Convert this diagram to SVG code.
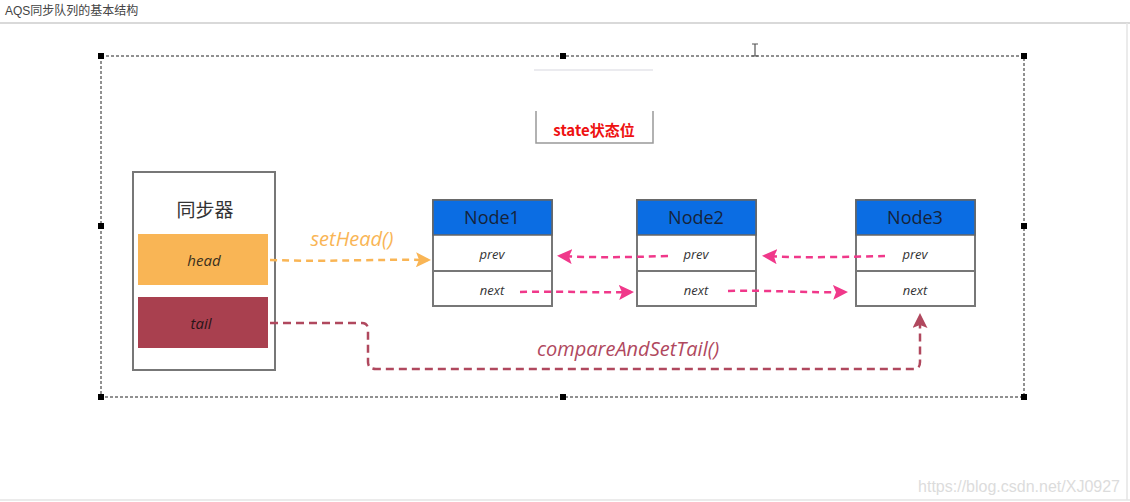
<svg xmlns="http://www.w3.org/2000/svg" width="1130" height="502" viewBox="0 0 1130 502">
<style>
.frame{fill:#fff;stroke:#777;stroke-width:2}
.hdr{fill:#0b6de3;stroke:#666;stroke-width:1.5}
.hand{font-family:"Open Sans","Liberation Sans",sans-serif}
.it{font-style:italic}
.nodeT{font-size:18px;fill:#16233a;text-anchor:middle}
.field{font-size:13px;fill:#333;text-anchor:middle;font-style:italic}
.pink{fill:none;stroke:#f0388a;stroke-width:2.5;stroke-dasharray:7 5}
.handle{fill:#000}
</style>
<defs>
<marker id="mPink" viewBox="0 0 10 10" refX="8" refY="5" markerWidth="6" markerHeight="6" orient="auto"><path d="M0,0 L10,5 L0,10 L2,5 z" fill="#f0388a"/></marker>
<marker id="mOrange" viewBox="0 0 10 10" refX="8" refY="5" markerWidth="6" markerHeight="6" orient="auto"><path d="M0,0 L10,5 L0,10 L2,5 z" fill="#f9b555"/></marker>
<marker id="mRed" viewBox="0 0 10 10" refX="8" refY="5" markerWidth="6" markerHeight="6" orient="auto"><path d="M0,0 L10,5 L0,10 L2,5 z" fill="#b0485e"/></marker>
</defs>
<rect width="1130" height="502" fill="#fff"/>
<text x="5" y="15" font-family="'Liberation Sans','Noto Sans CJK SC',sans-serif" font-size="12" fill="#444">AQS同步队列的基本结构</text>
<line x1="0" y1="23" x2="1130" y2="23" stroke="#ccc" stroke-width="1.5"/>
<line x1="1127" y1="23" x2="1127" y2="500" stroke="#e4e4e4" stroke-width="1.5"/>
<line x1="0" y1="500" x2="1130" y2="500" stroke="#e4e4e4" stroke-width="1.5"/>

<g id="selection">
<rect x="101" y="56" width="923" height="341" fill="none" stroke="#222" stroke-width="1" stroke-dasharray="3 2"/>
<rect class="handle" x="98" y="53" width="6" height="6"/>
<rect class="handle" x="560" y="53" width="6" height="6"/>
<rect class="handle" x="1021" y="53" width="6" height="6"/>
<rect class="handle" x="98" y="223" width="6" height="6"/>
<rect class="handle" x="1021" y="223" width="6" height="6"/>
<rect class="handle" x="98" y="394" width="6" height="6"/>
<rect class="handle" x="560" y="394" width="6" height="6"/>
<rect class="handle" x="1021" y="394" width="6" height="6"/>
<path d="M752,44 h6 M755,44 v12 M752,56 h6" stroke="#555" stroke-width="1.2" fill="none"/>
</g>

<g id="state">
<line x1="534" y1="70" x2="653" y2="70" stroke="#e4e4ea" stroke-width="1.5"/>
<path d="M536,111 V143 H653 V111" fill="#fff" stroke="#999" stroke-width="1.5"/>
<text x="594" y="136" font-family="'Noto Sans CJK SC','Liberation Sans',sans-serif" font-size="15" font-weight="bold" fill="#ee1111" text-anchor="middle">state状态位</text>
</g>

<g id="sync">
<rect class="frame" x="133" y="172" width="142" height="198"/>
<text x="205" y="217" font-family="'Noto Sans CJK SC',sans-serif" font-size="19" fill="#333" text-anchor="middle">同步器</text>
<rect x="138" y="234" width="130" height="51" fill="#f9b555"/>
<text class="hand it" x="204" y="266" font-size="15" fill="#3a3020" text-anchor="middle">head</text>
<rect x="138" y="297" width="130" height="51" fill="#a9404f"/>
<text class="hand it" x="201" y="329" font-size="15" fill="#2a1518" text-anchor="middle">tail</text>
</g>

<g id="node1">
<rect class="frame" x="433" y="200" width="119" height="106"/>
<rect class="hdr" x="433" y="200" width="119" height="35"/>
<line x1="433" y1="271" x2="552" y2="271" stroke="#777" stroke-width="2"/>
<text class="hand nodeT" x="492" y="224">Node1</text>
<text class="hand field" x="492" y="259">prev</text>
<text class="hand field" x="492" y="295">next</text>
</g>
<g id="node2">
<rect class="frame" x="637" y="200" width="119" height="106"/>
<rect class="hdr" x="637" y="200" width="119" height="35"/>
<line x1="637" y1="271" x2="756" y2="271" stroke="#777" stroke-width="2"/>
<text class="hand nodeT" x="696" y="224">Node2</text>
<text class="hand field" x="696" y="259">prev</text>
<text class="hand field" x="696" y="295">next</text>
</g>
<g id="node3">
<rect class="frame" x="856" y="200" width="119" height="106"/>
<rect class="hdr" x="856" y="200" width="119" height="35"/>
<line x1="856" y1="271" x2="975" y2="271" stroke="#777" stroke-width="2"/>
<text class="hand nodeT" x="915" y="224">Node3</text>
<text class="hand field" x="915" y="259">prev</text>
<text class="hand field" x="915" y="295">next</text>
</g>

<g id="connectors">
<path d="M270,260 C330,262 380,259 428,260" fill="none" stroke="#f9b555" stroke-width="2.5" stroke-dasharray="7 5" marker-end="url(#mOrange)"/>
<text class="hand it" x="352" y="246" font-size="20" fill="#f9b555" text-anchor="middle">setHead()</text>
<path class="pink" d="M668,256 C630,257 600,258 560,256" marker-end="url(#mPink)"/>
<path class="pink" d="M885,256 C850,257 800,258 765,256" marker-end="url(#mPink)"/>
<path class="pink" d="M520,292 C560,291 600,293 631,292" marker-end="url(#mPink)"/>
<path class="pink" d="M728,291 C770,290 810,293 845,292" marker-end="url(#mPink)"/>
<path d="M270,323 H362 Q368,323 368,330 V362 Q368,369 376,369 H914 Q920,369 920,362 V316" fill="none" stroke="#b0485e" stroke-width="2.5" stroke-dasharray="8 5" marker-end="url(#mRed)"/>
<text class="hand it" x="628" y="356" font-size="20" fill="#b0485e" text-anchor="middle">compareAndSetTail()</text>
</g>

<text x="1120" y="492" font-family="'Liberation Sans',sans-serif" font-size="16" fill="#dcdcdc" text-anchor="end">https://blog.csdn.net/XJ0927</text>
</svg>
